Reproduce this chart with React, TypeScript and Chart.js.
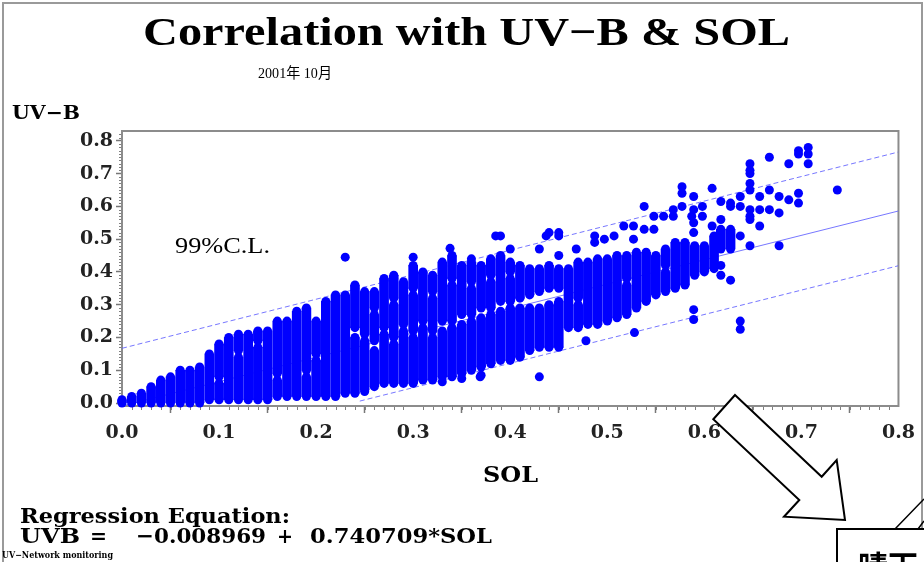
import React, { useEffect, useRef } from "react";
import { Chart, registerables } from "chart.js";

Chart.register(...registerables);

// ---------- texts ----------
const TITLE = "Correlation with UV\u2212B & SOL";
const SUBTITLE = "2001年 10月";
const Y_AXIS_TITLE = "UV\u2212B";
const X_AXIS_TITLE = "SOL";
const CL_LABEL = "99%C.L.";
const EQ_TITLE = "Regression Equation:";
const EQ_PARTS = ["UVB", "=", "\u22120.008969", "+", "0.740709*SOL"];
const FOOTNOTE = "UV\u2212Network monitoring";
const CALLOUT = "晴天";

// ---------- axes ----------
const xTickValues = [0, 0.1, 0.2, 0.3, 0.4, 0.5, 0.6, 0.7, 0.8];
const xTickLabels = ["0.0", "0.1", "0.2", "0.3", "0.4", "0.5", "0.6", "0.7", "0.8"];
const yTickValues = [0, 0.1, 0.2, 0.3, 0.4, 0.5, 0.6, 0.7, 0.8];
const yTickLabels = ["0.0", "0.1", "0.2", "0.3", "0.4", "0.5", "0.6", "0.7", "0.8"];

// ---------- regression line & 99% confidence limits (end points) ----------
const regLineSOL = [0, 0.8];
const regLineUVB = [-0.009, 0.586];
const upperCLSOL = [0, 0.8];
const upperCLUVB = [0.167, 0.766];
const lowerCLSOL = [0.245, 0.8];
const lowerCLUVB = [0.006, 0.419];

// ---------- observations ----------
// dense vertical runs of overlapping observations: [SOL, UV-B low, UV-B high]
const columnRuns: [number, number, number][] = [
  [0.0, 0.0, 0.01], [0.01, 0.0, 0.02], [0.02, 0.0, 0.03], [0.03, 0.0, 0.05],
  [0.04, 0.0, 0.07], [0.05, 0.0, 0.08], [0.06, 0.0, 0.1], [0.07, 0.0, 0.1],
  [0.08, 0.0, 0.11], [0.09, 0.01, 0.15],
  [0.1, 0.01, 0.06], [0.1, 0.08, 0.18],
  [0.11, 0.01, 0.2],
  [0.12, 0.01, 0.14], [0.12, 0.16, 0.21],
  [0.13, 0.01, 0.21],
  [0.14, 0.01, 0.17], [0.14, 0.19, 0.22],
  [0.15, 0.01, 0.22],
  [0.16, 0.02, 0.07], [0.16, 0.09, 0.25],
  [0.17, 0.02, 0.25], [0.18, 0.02, 0.28],
  [0.19, 0.02, 0.08], [0.19, 0.1, 0.29],
  [0.2, 0.02, 0.13], [0.2, 0.15, 0.25],
  [0.21, 0.02, 0.31], [0.22, 0.02, 0.33], [0.23, 0.03, 0.33],
  [0.24, 0.03, 0.2], [0.24, 0.23, 0.36],
  [0.25, 0.04, 0.19], [0.25, 0.21, 0.34],
  [0.26, 0.05, 0.16], [0.26, 0.19, 0.27], [0.26, 0.29, 0.34],
  [0.27, 0.06, 0.21], [0.27, 0.23, 0.38],
  [0.28, 0.06, 0.18], [0.28, 0.2, 0.3], [0.28, 0.32, 0.39],
  [0.29, 0.06, 0.22], [0.29, 0.24, 0.37],
  [0.3, 0.06, 0.2], [0.3, 0.22, 0.33], [0.3, 0.35, 0.42],
  [0.31, 0.07, 0.23], [0.31, 0.25, 0.4],
  [0.32, 0.07, 0.2], [0.32, 0.22, 0.32], [0.32, 0.34, 0.39],
  [0.33, 0.08, 0.22], [0.33, 0.25, 0.43],
  [0.34, 0.08, 0.23], [0.34, 0.25, 0.36], [0.34, 0.38, 0.45],
  [0.35, 0.09, 0.24], [0.35, 0.27, 0.42],
  [0.36, 0.1, 0.25], [0.36, 0.27, 0.35], [0.36, 0.37, 0.43],
  [0.37, 0.11, 0.26], [0.37, 0.29, 0.42],
  [0.38, 0.12, 0.27], [0.38, 0.29, 0.37], [0.38, 0.39, 0.44],
  [0.39, 0.13, 0.28], [0.39, 0.31, 0.45],
  [0.4, 0.13, 0.29], [0.4, 0.31, 0.38], [0.4, 0.4, 0.43],
  [0.41, 0.14, 0.29], [0.41, 0.32, 0.42],
  [0.42, 0.16, 0.29], [0.42, 0.33, 0.41],
  [0.43, 0.17, 0.29], [0.43, 0.34, 0.41],
  [0.44, 0.17, 0.3], [0.44, 0.35, 0.42],
  [0.45, 0.17, 0.31], [0.45, 0.35, 0.41],
  [0.46, 0.23, 0.41],
  [0.47, 0.23, 0.3], [0.47, 0.32, 0.43],
  [0.48, 0.24, 0.43], [0.49, 0.24, 0.44], [0.5, 0.25, 0.44], [0.51, 0.26, 0.45],
  [0.52, 0.27, 0.36], [0.52, 0.38, 0.45],
  [0.53, 0.29, 0.46], [0.54, 0.31, 0.46], [0.55, 0.33, 0.45],
  [0.56, 0.34, 0.4], [0.56, 0.42, 0.47],
  [0.57, 0.35, 0.49], [0.58, 0.36, 0.49], [0.59, 0.39, 0.48], [0.6, 0.4, 0.48],
  [0.61, 0.41, 0.51], [0.617, 0.47, 0.53], [0.627, 0.47, 0.53],
];

// single observations: SOL and UV-B
const pointSOL = [
  0.23, 0.3, 0.338, 0.36, 0.385, 0.39, 0.4, 0.43, 0.437,
  0.44, 0.45, 0.45, 0.45, 0.468, 0.487, 0.487, 0.497, 0.507, 0.517, 0.527, 0.527,
  0.538, 0.538, 0.548, 0.548, 0.558, 0.568, 0.568, 0.577, 0.577, 0.577, 0.587,
  0.589, 0.589, 0.589, 0.589, 0.598, 0.598, 0.608, 0.608,
  0.617, 0.617, 0.617, 0.617, 0.627, 0.627, 0.627,
  0.637, 0.637, 0.637,
  0.647, 0.647, 0.647, 0.647, 0.647, 0.647, 0.647, 0.647, 0.647,
  0.657, 0.657, 0.657, 0.667, 0.667, 0.667, 0.677, 0.677, 0.677,
  0.687, 0.687, 0.697, 0.697, 0.697, 0.697, 0.707, 0.707, 0.707, 0.737,
  0.589, 0.589, 0.637, 0.637, 0.528, 0.478, 0.43, 0.369, 0.35, 0.33, 0.25, 0.37,
];
const pointUVB = [
  0.445, 0.445, 0.472, 0.44, 0.51, 0.51, 0.47, 0.47, 0.51,
  0.52, 0.52, 0.51, 0.45, 0.47, 0.51, 0.49, 0.5, 0.51, 0.54, 0.54, 0.5,
  0.6, 0.53, 0.57, 0.53, 0.57, 0.59, 0.57, 0.66, 0.64, 0.6, 0.57,
  0.63, 0.59, 0.55, 0.52, 0.6, 0.57, 0.655, 0.54,
  0.615, 0.56, 0.42, 0.39, 0.61, 0.6, 0.375,
  0.63, 0.6, 0.51,
  0.73, 0.71, 0.7, 0.67, 0.65, 0.59, 0.57, 0.56, 0.48,
  0.63, 0.59, 0.54, 0.75, 0.65, 0.59, 0.63, 0.58, 0.48,
  0.73, 0.62, 0.77, 0.76, 0.64, 0.61, 0.78, 0.76, 0.73, 0.65,
  0.285, 0.255, 0.25, 0.225, 0.215, 0.19, 0.08, 0.08, 0.075, 0.065, 0.035, 0.085,
];

const DOT = "#0000ff";
const LINE = "rgba(95,95,255,0.85)";

function drawFitted(
  ctx: CanvasRenderingContext2D,
  text: string,
  x: number,
  y: number,
  font: string,
  width?: number,
  color = "#000"
) {
  ctx.save();
  ctx.font = font;
  ctx.fillStyle = color;
  ctx.textAlign = "left";
  ctx.textBaseline = "alphabetic";
  if (width) {
    const w = ctx.measureText(text).width;
    ctx.translate(x, y);
    ctx.scale(width / w, 1);
    ctx.fillText(text, 0, 0);
  } else {
    ctx.fillText(text, x, y);
  }
  ctx.restore();
}

const decorPlugin = {
  id: "decor",
  beforeDraw(chart: any) {
    const { ctx, width, height } = chart;
    ctx.save();
    ctx.fillStyle = "#fff";
    ctx.fillRect(0, 0, width, height);
    ctx.restore();
  },
  beforeDatasetsDraw(chart: any) {
    const { ctx, chartArea: a, scales } = chart;
    const xs = scales.x;
    const ys = scales.y;
    ctx.save();
    ctx.strokeStyle = "#808080";
    ctx.lineWidth = 1;
    ctx.beginPath();
    for (let i = 1; i < 80; i++) {
      if (i % 10 === 0) continue;
      const px = Math.round(xs.getPixelForValue(i / 100)) + 0.5;
      ctx.moveTo(px, a.bottom);
      ctx.lineTo(px, a.bottom + 4);
    }
    for (let i = 1; i <= 82; i++) {
      if (i % 10 === 0) continue;
      const py = Math.round(ys.getPixelForValue(i / 100)) + 0.5;
      ctx.moveTo(a.left - 3, py);
      ctx.lineTo(a.left, py);
    }
    ctx.stroke();
    ctx.strokeStyle = "#8c8c8c";
    ctx.lineWidth = 2;
    ctx.strokeRect(a.left, a.top, a.right - a.left, a.bottom - a.top);
    ctx.restore();
  },
  afterDraw(chart: any) {
    const { ctx } = chart;
    ctx.save();
    ctx.strokeStyle = "#9a9a9a";
    ctx.lineWidth = 2;
    ctx.strokeRect(3, 3, 919, 600);

    drawFitted(ctx, TITLE, 143, 45, "bold 40px 'Liberation Serif'", 647);
    drawFitted(ctx, SUBTITLE, 258, 78, "15px 'Liberation Serif', 'Noto Sans CJK JP'", 74);
    drawFitted(ctx, Y_AXIS_TITLE, 12, 119, "bold 19px 'DejaVu Serif'", 68);
    drawFitted(ctx, CL_LABEL, 175, 253, "24px 'Liberation Serif'", 95);
    drawFitted(ctx, X_AXIS_TITLE, 483, 482, "bold 22px 'DejaVu Serif'", 55);
    drawFitted(ctx, EQ_TITLE, 20, 523, "bold 20px 'DejaVu Serif'", 270);
    const eqFont = "bold 21px 'DejaVu Serif'";
    drawFitted(ctx, EQ_PARTS[0], 20, 543, eqFont, 60);
    drawFitted(ctx, EQ_PARTS[1], 90, 543, eqFont, 17);
    drawFitted(ctx, EQ_PARTS[2], 136, 543, eqFont, 130);
    drawFitted(ctx, EQ_PARTS[3], 277, 543, eqFont, 16);
    drawFitted(ctx, EQ_PARTS[4], 310, 543, eqFont, 182);
    drawFitted(ctx, FOOTNOTE, 2, 558, "bold 9px 'DejaVu Serif'", 111);

    // hollow arrow
    ctx.beginPath();
    ctx.moveTo(735, 395);
    ctx.lineTo(821.7, 476.7);
    ctx.lineTo(836.7, 460);
    ctx.lineTo(845, 520);
    ctx.lineTo(784, 516.7);
    ctx.lineTo(799.3, 500);
    ctx.lineTo(713.3, 419.3);
    ctx.closePath();
    ctx.fillStyle = "#fff";
    ctx.fill();
    ctx.strokeStyle = "#000";
    ctx.lineWidth = 2;
    ctx.stroke();

    ctx.lineWidth = 1.5;
    ctx.beginPath();
    ctx.moveTo(895, 529);
    ctx.lineTo(924, 499);
    ctx.moveTo(918, 529);
    ctx.lineTo(924, 521);
    ctx.stroke();

    ctx.fillStyle = "#fff";
    ctx.fillRect(837, 529, 100, 60);
    ctx.lineWidth = 2;
    ctx.strokeRect(837, 529, 100, 60);
    drawFitted(ctx, CALLOUT, 858, 577, "bold 30px 'Noto Sans CJK JP'");
    ctx.restore();
  },
};

export default function App() {
  const ref = useRef<HTMLCanvasElement | null>(null);

  useEffect(() => {
    if (!ref.current) return;
    const tickFont = { family: "'DejaVu Serif'", size: 19, weight: "bold" as const };
    const runBars = columnRuns.map(([x, lo, hi]) => ({ x, y: [lo, hi] }));
    const runEnds = columnRuns.flatMap(([x, lo, hi]) => [
      { x, y: lo },
      { x, y: hi },
    ]);
    const singles = pointSOL.map((x, i) => ({ x, y: pointUVB[i] }));
    const toPts = (xs: number[], ys: number[]) => xs.map((x, i) => ({ x, y: ys[i] }));

    const chart = new Chart(ref.current, {
      type: "scatter",
      data: {
        datasets: [
          {
            type: "line",
            label: "upper 99% C.L.",
            data: toPts(upperCLSOL, upperCLUVB),
            borderColor: LINE,
            borderWidth: 1,
            borderDash: [5, 3],
            pointRadius: 0,
            fill: false,
            order: 3,
          },
          {
            type: "line",
            label: "regression",
            data: toPts(regLineSOL, regLineUVB),
            borderColor: LINE,
            borderWidth: 1,
            pointRadius: 0,
            fill: false,
            order: 3,
          },
          {
            type: "line",
            label: "lower 99% C.L.",
            data: toPts(lowerCLSOL, lowerCLUVB),
            borderColor: LINE,
            borderWidth: 1,
            borderDash: [5, 3],
            pointRadius: 0,
            fill: false,
            order: 3,
          },
          {
            type: "bar",
            label: "runs",
            data: runBars as any,
            backgroundColor: DOT,
            borderWidth: 0,
            barThickness: 9,
            grouped: false,
            clip: false as any,
            order: 2,
          } as any,
          {
            type: "scatter",
            label: "observations",
            data: [...runEnds, ...singles],
            backgroundColor: DOT,
            borderWidth: 0,
            pointRadius: 4.5,
            clip: false as any,
            order: 1,
          } as any,
        ],
      },
      options: {
        animation: false,
        responsive: false,
        devicePixelRatio: 1,
        events: [],
        layout: { padding: { top: 131, right: 22, bottom: 116, left: 0 } },
        plugins: {
          legend: { display: false },
          tooltip: { enabled: false },
          title: { display: false },
        },
        scales: {
          x: {
            type: "linear",
            min: 0,
            max: 0.8,
            offset: false,
            afterBuildTicks: (s: any) => {
              s.ticks = xTickValues.map((v) => ({ value: v }));
            },
            afterFit: (s: any) => {
              s.height = 40;
            },
            ticks: {
              callback: (_v: any, i: number) => xTickLabels[i],
              font: tickFont,
              color: "#222",
              padding: 9,
              maxRotation: 0,
              autoSkip: false,
            },
            grid: {
              display: true,
              drawOnChartArea: false,
              drawTicks: true,
              tickLength: 7,
              tickColor: "#777",
              tickWidth: 1.5,
            },
            border: { display: false },
          },
          y: {
            type: "linear",
            min: -0.009,
            max: 0.83,
            afterBuildTicks: (s: any) => {
              s.ticks = yTickValues.map((v) => ({ value: v }));
            },
            afterFit: (s: any) => {
              s.width = 122;
            },
            ticks: {
              callback: (_v: any, i: number) => yTickLabels[i],
              font: tickFont,
              color: "#222",
              padding: 3,
              autoSkip: false,
            },
            grid: {
              display: true,
              drawOnChartArea: false,
              drawTicks: true,
              tickLength: 6,
              tickColor: "#777",
              tickWidth: 1.5,
            },
            border: { display: false },
          },
        },
      },
      plugins: [decorPlugin],
    });
    return () => chart.destroy();
  }, []);

  return (
    <div style={{ position: "absolute", left: 0, top: 0, width: 924, height: 562, background: "#fff", overflow: "hidden" }}>
      <canvas ref={ref} width={924} height={562} style={{ display: "block" }} />
    </div>
  );
}
